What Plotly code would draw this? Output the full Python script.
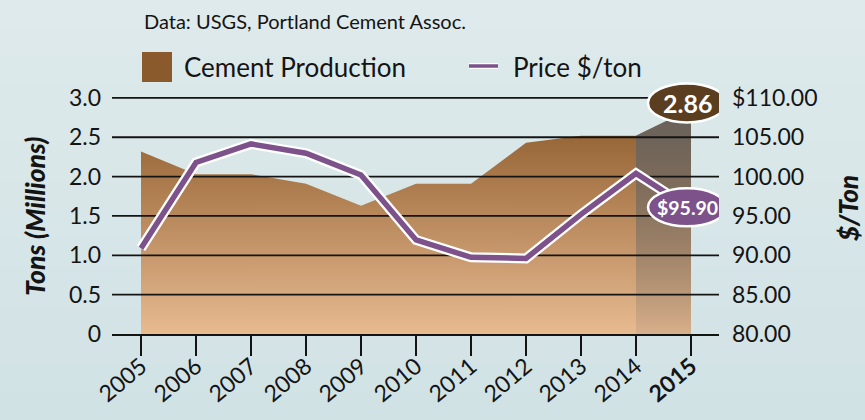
import plotly.graph_objects as go

# ---- data -------------------------------------------------------------
years = list(range(2005, 2016))
year_labels = [str(y) for y in years[:-1]] + ["<b>2015</b>"]

production = [2.32, 2.03, 2.03, 1.91, 1.63, 1.91, 1.91, 2.43, 2.52, 2.52, 2.86]
price = [90.9, 101.8, 104.15, 102.97, 100.2, 91.95, 89.75, 89.6, 95.2, 100.4, 95.90]

left_ticks = [0, 0.5, 1.0, 1.5, 2.0, 2.5, 3.0]
left_tick_text = ["0", "0.5", "1.0", "1.5", "2.0", "2.5", "3.0"]
right_ticks = [80, 85, 90, 95, 100, 105, 110]
right_tick_text = ["80.00", "85.00", "90.00", "95.00", "100.00", "105.00", "$110.00"]

# ---- layout geometry -------------------------------------------------
W, H = 865, 420
ML, MR, MT, MB = 112, 146, 80, 86
PW, PH = W - ML - MR, H - MT - MB
X_RANGE = [2005 - 29 / 55, 2015 + 28 / 55]
Y_RANGE = [0, PH / 78.7]
Y2_RANGE = [80, 80 + 10 * Y_RANGE[1]]

FONT = "Lato"
INK = "#141414"
BROWN = "#8A5A2C"
PURPLE = "#7D528B"


def px(x):
    return (x - ML) / PW


def py(y):
    return (H - MB - y) / PH


fig = go.Figure()

# production area with a vertical brown gradient
fig.add_trace(go.Scatter(
    x=years, y=production, mode="none", fill="tozeroy",
    fillgradient=dict(type="vertical", start=0, stop=2.9,
                      colorscale=[[0, "#E7BA90"], [1, "#8C5A2A"]]),
    hoverinfo="skip", showlegend=False,
))

# estimated final year, shaded grey
fig.add_trace(go.Scatter(
    x=years[-2:], y=production[-2:], mode="none", fill="tozeroy",
    fillgradient=dict(type="vertical", start=0, stop=2.86,
                      colorscale=[[0, "rgba(105,105,105,0.12)"],
                                  [1, "rgba(100,98,96,0.92)"]]),
    hoverinfo="skip", showlegend=False,
))

# horizontal grid lines drawn over the area
gx, gy = [], []
for t in left_ticks[1:]:
    gx += [X_RANGE[0], X_RANGE[1], None]
    gy += [t, t, None]
fig.add_trace(go.Scatter(
    x=gx, y=gy, mode="lines", line=dict(color=INK, width=1.8),
    hoverinfo="skip", showlegend=False, cliponaxis=True,
))

# price line with a white halo
fig.add_trace(go.Scatter(
    x=years, y=price, yaxis="y2", mode="lines",
    line=dict(color="white", width=10), hoverinfo="skip", showlegend=False,
))
fig.add_trace(go.Scatter(
    x=years, y=price, yaxis="y2", mode="lines",
    line=dict(color=PURPLE, width=5.5), showlegend=False,
))

shapes = []

# soft background gradient
bands = 30
top_c = (222, 234, 235)
bot_c = (209, 226, 229)
for i in range(bands):
    f = i / (bands - 1)
    c = tuple(round(top_c[k] + (bot_c[k] - top_c[k]) * f) for k in range(3))
    shapes.append(dict(
        type="rect", xref="paper", yref="paper", layer="below",
        x0=px(0), x1=px(W), y0=py(H * i / bands), y1=py(H * (i + 1) / bands),
        fillcolor="rgb(%d,%d,%d)" % c, line=dict(width=0),
    ))

# legend markers
shapes.append(dict(type="rect", xref="paper", yref="paper",
                   x0=px(142), x1=px(172), y0=py(82), y1=py(52),
                   fillcolor=BROWN, line=dict(width=0)))
shapes.append(dict(type="line", xref="paper", yref="paper",
                   x0=px(469), x1=px(498), y0=py(66), y1=py(66),
                   line=dict(color="white", width=6)))
shapes.append(dict(type="line", xref="paper", yref="paper",
                   x0=px(469), x1=px(498), y0=py(66), y1=py(66),
                   line=dict(color=PURPLE, width=3.5)))

# value badges on the final year
shapes.append(dict(type="circle", xref="x", yref="y",
                   xsizemode="pixel", ysizemode="pixel",
                   xanchor=years[-1], yanchor=production[-1],
                   x0=-43, x1=35, y0=-13.5, y1=25.5,
                   fillcolor="#5B3D1F", line=dict(color="white", width=2.5)))
shapes.append(dict(type="circle", xref="x", yref="y2",
                   xsizemode="pixel", ysizemode="pixel",
                   xanchor=years[-1], yanchor=price[-1],
                   x0=-43, x1=35, y0=-17.5, y1=20.5,
                   fillcolor=PURPLE, line=dict(color="white", width=2.5)))

annotations = [
    dict(text="Data: USGS, Portland Cement Assoc.", xref="paper", yref="paper",
         x=px(142), y=py(21), xanchor="left", yanchor="middle", showarrow=False,
         font=dict(family=FONT, size=20, color=INK)),
    dict(text="Cement Production", xref="paper", yref="paper",
         x=px(182), y=py(67), xanchor="left", yanchor="middle", showarrow=False,
         font=dict(family=FONT, size=26, color=INK)),
    dict(text="Price $/ton", xref="paper", yref="paper",
         x=px(511), y=py(67), xanchor="left", yanchor="middle", showarrow=False,
         font=dict(family=FONT, size=26, color=INK)),
    dict(text="<i>Tons (Millions)</i>", xref="paper", yref="paper",
         x=px(35), y=py(217), xanchor="center", yanchor="middle", textangle=-90,
         showarrow=False,
         font=dict(family=FONT, size=26.5, color=INK, weight=900)),
    dict(text="<i>$/Ton</i>", xref="paper", yref="paper",
         x=px(848), y=py(208), xanchor="center", yanchor="middle", textangle=-90,
         showarrow=False,
         font=dict(family=FONT, size=26, color=INK, weight=900)),
    dict(text="%.2f" % production[-1], xref="x", yref="y",
         x=years[-1], y=production[-1], xshift=-4, yshift=6, showarrow=False,
         font=dict(family=FONT, size=25, color="white", weight="bold")),
    dict(text="$%.2f" % price[-1], xref="x", yref="y2",
         x=years[-1], y=price[-1], xshift=-4, yshift=1.5, showarrow=False,
         font=dict(family=FONT, size=19.5, color="white", weight="bold")),
]

fig.update_layout(
    width=W, height=H,
    margin=dict(l=ML, r=MR, t=MT, b=MB, autoexpand=False),
    paper_bgcolor="rgb(216,230,232)",
    plot_bgcolor="rgba(0,0,0,0)",
    showlegend=False,
    shapes=shapes,
    annotations=annotations,
    xaxis=dict(
        range=X_RANGE, tickvals=years, ticktext=year_labels, tickangle=-40,
        ticks="outside", ticklen=20, tickwidth=1.6, tickcolor=INK,
        ticklabelstandoff=-12,
        showline=True, linecolor=INK, linewidth=2, showgrid=False, zeroline=False,
        tickfont=dict(family=FONT, size=23, color=INK), fixedrange=True,
        automargin=False,
    ),
    yaxis=dict(
        range=Y_RANGE, tickvals=left_ticks, ticktext=left_tick_text,
        showgrid=False, zeroline=False, showline=False, ticks="",
        ticklabelstandoff=10, tickfont=dict(family=FONT, size=23, color=INK),
        fixedrange=True, automargin=False,
    ),
    yaxis2=dict(
        range=Y2_RANGE, tickvals=right_ticks, ticktext=right_tick_text,
        overlaying="y", side="right",
        showgrid=False, zeroline=False, showline=False, ticks="",
        ticklabelstandoff=12, tickfont=dict(family=FONT, size=23, color=INK),
        fixedrange=True, automargin=False,
    ),
)

fig.write_html("out.html")
